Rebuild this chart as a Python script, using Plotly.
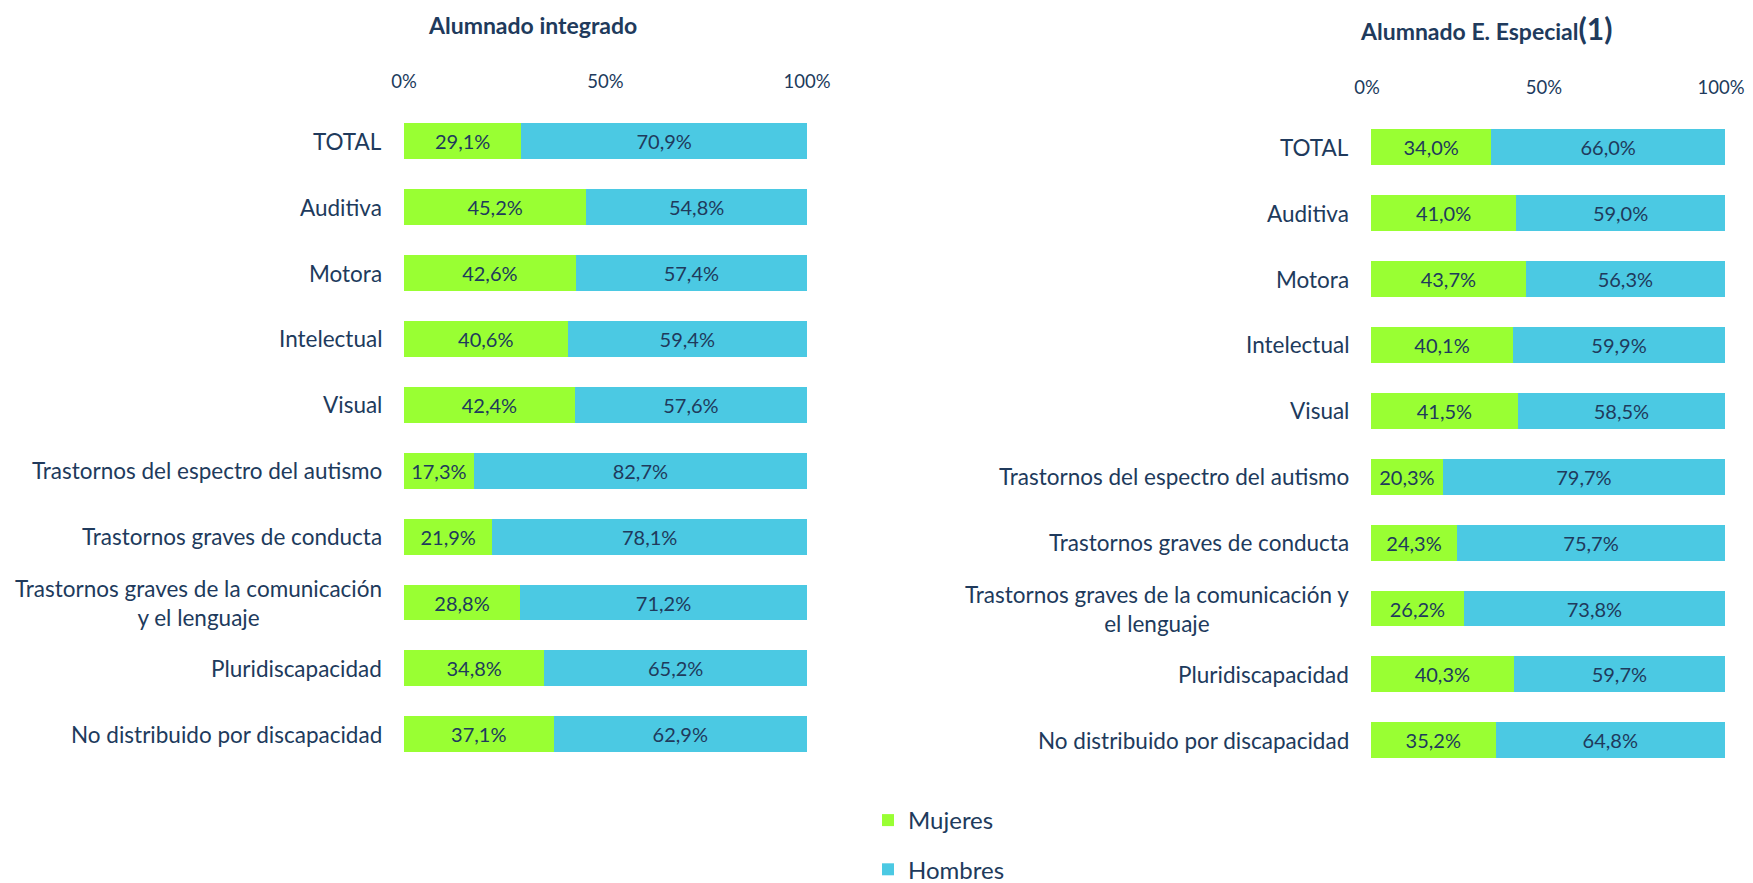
import plotly.graph_objects as go

categories_int = ["TOTAL", "Auditiva", "Motora", "Intelectual", "Visual",
                  "Trastornos del espectro del autismo", "Trastornos graves de conducta",
                  "Trastornos graves de la comunicación<br>y el lenguaje",
                  "Pluridiscapacidad", "No distribuido por discapacidad"]
categories_esp = ["TOTAL", "Auditiva", "Motora", "Intelectual", "Visual",
                  "Trastornos del espectro del autismo", "Trastornos graves de conducta",
                  "Trastornos graves de la comunicación y<br>el lenguaje",
                  "Pluridiscapacidad", "No distribuido por discapacidad"]
mujeres_int = [29.1, 45.2, 42.6, 40.6, 42.4, 17.3, 21.9, 28.8, 34.8, 37.1]
hombres_int = [70.9, 54.8, 57.4, 59.4, 57.6, 82.7, 78.1, 71.2, 65.2, 62.9]
mujeres_esp = [34.0, 41.0, 43.7, 40.1, 41.5, 20.3, 24.3, 26.2, 40.3, 35.2]
hombres_esp = [66.0, 59.0, 56.3, 59.9, 58.5, 79.7, 75.7, 73.8, 59.7, 64.8]
tick_vals = [0, 50, 100]
tick_text = ["0%", "50%", "100%"]

GREEN = "#99FF33"
BLUE = "#4BC9E3"
NAVY = "#203A5C"
FONT = "Lato"
W, H = 1753, 883

idx = list(range(len(categories_int)))


def fmt(v):
    return f"{v:.1f}".replace(".", ",") + "%"


fig = go.Figure()
for (muj, hom, xa, ya, show) in [(mujeres_int, hombres_int, "x", "y", True),
                                 (mujeres_esp, hombres_esp, "x2", "y2", False)]:
    fig.add_trace(go.Bar(y=idx, x=muj, orientation="h", name="Mujeres",
                         marker=dict(color=GREEN, line=dict(width=0)),
                         text=[fmt(v) for v in muj], textposition="inside",
                         insidetextanchor="middle", textangle=0,
                         textfont=dict(color=NAVY, size=20, family=FONT),
                         xaxis=xa, yaxis=ya, showlegend=show, legendgroup="m"))
    fig.add_trace(go.Bar(y=idx, x=hom, orientation="h", name="Hombres",
                         marker=dict(color=BLUE, line=dict(width=0)),
                         text=[fmt(v) for v in hom], textposition="inside",
                         insidetextanchor="middle", textangle=0,
                         textfont=dict(color=NAVY, size=20, family=FONT),
                         xaxis=xa, yaxis=ya, showlegend=show, legendgroup="h"))

annotations = []
for cats, xr, yr in [(categories_int, "x domain", "y"), (categories_esp, "x2 domain", "y2")]:
    for i, c in enumerate(cats):
        annotations.append(dict(text=c, x=0, y=i, xref=xr, yref=yr, xanchor="right",
                                yanchor="middle", align="center", xshift=-20,
                                showarrow=False, font=dict(color=NAVY, size=22.5, family=FONT)))

annotations.append(dict(text="<b>Alumnado integrado</b>", x=524 / W, y=1 - 16.6 / H,
                        xref="paper", yref="paper", showarrow=False,
                        xanchor="center", yanchor="middle",
                        font=dict(color=NAVY, size=23, family=FONT)))
annotations.append(dict(text="<b>Alumnado E. Especial</b><span style='font-size:30px'><b>(1)</b></span>",
                        x=1478 / W, y=1 - 20 / H,
                        xref="paper", yref="paper", showarrow=False,
                        xanchor="center", yanchor="middle",
                        font=dict(color=NAVY, size=23, family=FONT)))

axis_common = dict(range=[0, 100], side="top", tickvals=tick_vals, ticktext=tick_text,
                   showgrid=False, zeroline=False, showline=False, ticks="",
                   tickfont=dict(color=NAVY, size=18.5, family=FONT), ticklabelstandoff=16)
yaxis_common = dict(range=[9.5, -0.5], showticklabels=False, showgrid=False,
                    zeroline=False, showline=False, ticks="")

fig.update_layout(
    width=W, height=H,
    margin=dict(l=0, r=0, t=0, b=0, autoexpand=False),
    paper_bgcolor="white", plot_bgcolor="white",
    barmode="stack", bargap=0.454,
    xaxis=dict(domain=[396 / W, 799 / W], anchor="y", **axis_common),
    yaxis=dict(domain=[1 - 759.2 / H, 1 - 100.4 / H], anchor="x", **yaxis_common),
    xaxis2=dict(domain=[1363 / W, 1717 / W], anchor="y2", ticklabelshift=-4, **axis_common),
    yaxis2=dict(domain=[1 - 765.2 / H, 1 - 106.4 / H], anchor="x2", **yaxis_common),
    annotations=annotations,
    showlegend=True,
    legend=dict(x=860 / W, y=1 - 790 / H, xanchor="left", yanchor="top",
                orientation="v", tracegroupgap=15,
                font=dict(color=NAVY, size=24, family=FONT), traceorder="grouped"),
    font=dict(family=FONT, color=NAVY),
)

fig.write_html("out.html")
